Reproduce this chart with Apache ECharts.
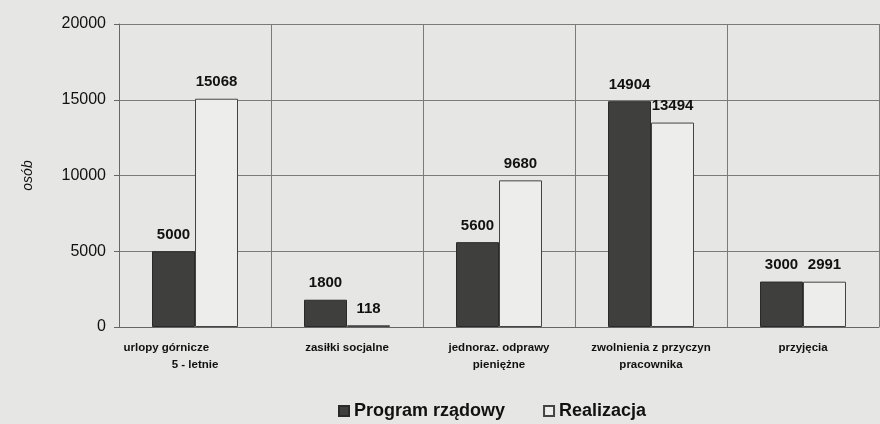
<!DOCTYPE html>
<html><head><meta charset="utf-8">
<script src="https://cdn.jsdelivr.net/npm/echarts@6/dist/echarts.min.js"></script>
<style>html,body{margin:0;padding:0;background:#e6e6e4;}#c{width:880px;height:424px;}</style>
</head><body><div id="c"></div>
<script>
var categories = ['urlopy górnicze                  \n5 - letnie', 'zasiłki socjalne', 'jednoraz. odprawy\npieniężne', 'zwolnienia z przyczyn\npracownika', 'przyjęcia'];
var programRzadowy = [5000, 1800, 5600, 14904, 3000];
var realizacja = [15068, 118, 9680, 13494, 2991];
var yTicks = [0, 5000, 10000, 15000, 20000];

var chart = echarts.init(document.getElementById('c'));
var lbl = {show: true, position: 'top', distance: 9, color: '#111', fontFamily: 'Liberation Sans, Arial', fontWeight: 'bold', fontSize: 15};
chart.setOption({
  backgroundColor: '#e6e6e4',
  animation: false,
  grid: {left: 119, right: 1, top: 24, bottom: 97, show: false},
  legend: {
    top: 397, left: 333, itemWidth: 10, itemHeight: 10, itemGap: 38,
    icon: 'rect',
    textStyle: {fontFamily: 'Liberation Sans, Arial', fontWeight: 'bold', fontSize: 18, color: '#111'},
    data: ['Program rządowy', 'Realizacja']
  },
  xAxis: {
    type: 'category', data: categories,
    axisLine: {show: true, lineStyle: {color: '#666'}},
    axisTick: {show: false},
    splitLine: {show: true, lineStyle: {color: '#7a7a7a', width: 1}},
    axisLabel: {interval: 0, margin: 12, color: '#111', fontFamily: 'Liberation Sans, Arial', fontWeight: 'bold', fontSize: 11.5, lineHeight: 17}
  },
  yAxis: {
    type: 'value', min: yTicks[0], max: yTicks[yTicks.length - 1], interval: 5000,
    name: 'osób', nameLocation: 'middle', nameGap: 84, nameRotate: 90,
    nameTextStyle: {fontFamily: 'Liberation Sans, Arial', fontStyle: 'italic', fontSize: 14, color: '#111'},
    axisLine: {show: true, lineStyle: {color: '#666'}},
    axisTick: {show: true, length: 5, lineStyle: {color: '#666'}},
    splitLine: {show: true, lineStyle: {color: '#7a7a7a', width: 1}},
    axisLabel: {margin: 13, color: '#111', fontFamily: 'Liberation Sans, Arial', fontSize: 16,
      formatter: function (v) { return String(v); }}
  },
  series: [
    {name: 'Program rządowy', type: 'bar', data: programRzadowy, barWidth: 43, barGap: '0%',
     itemStyle: {color: '#3f3f3d', borderColor: '#2a2a2a', borderWidth: 1}, label: lbl},
    {name: 'Realizacja', type: 'bar', data: realizacja, barWidth: 43,
     itemStyle: {color: '#ededeb', borderColor: '#444', borderWidth: 1}, label: lbl}
  ]
});
</script></body></html>
